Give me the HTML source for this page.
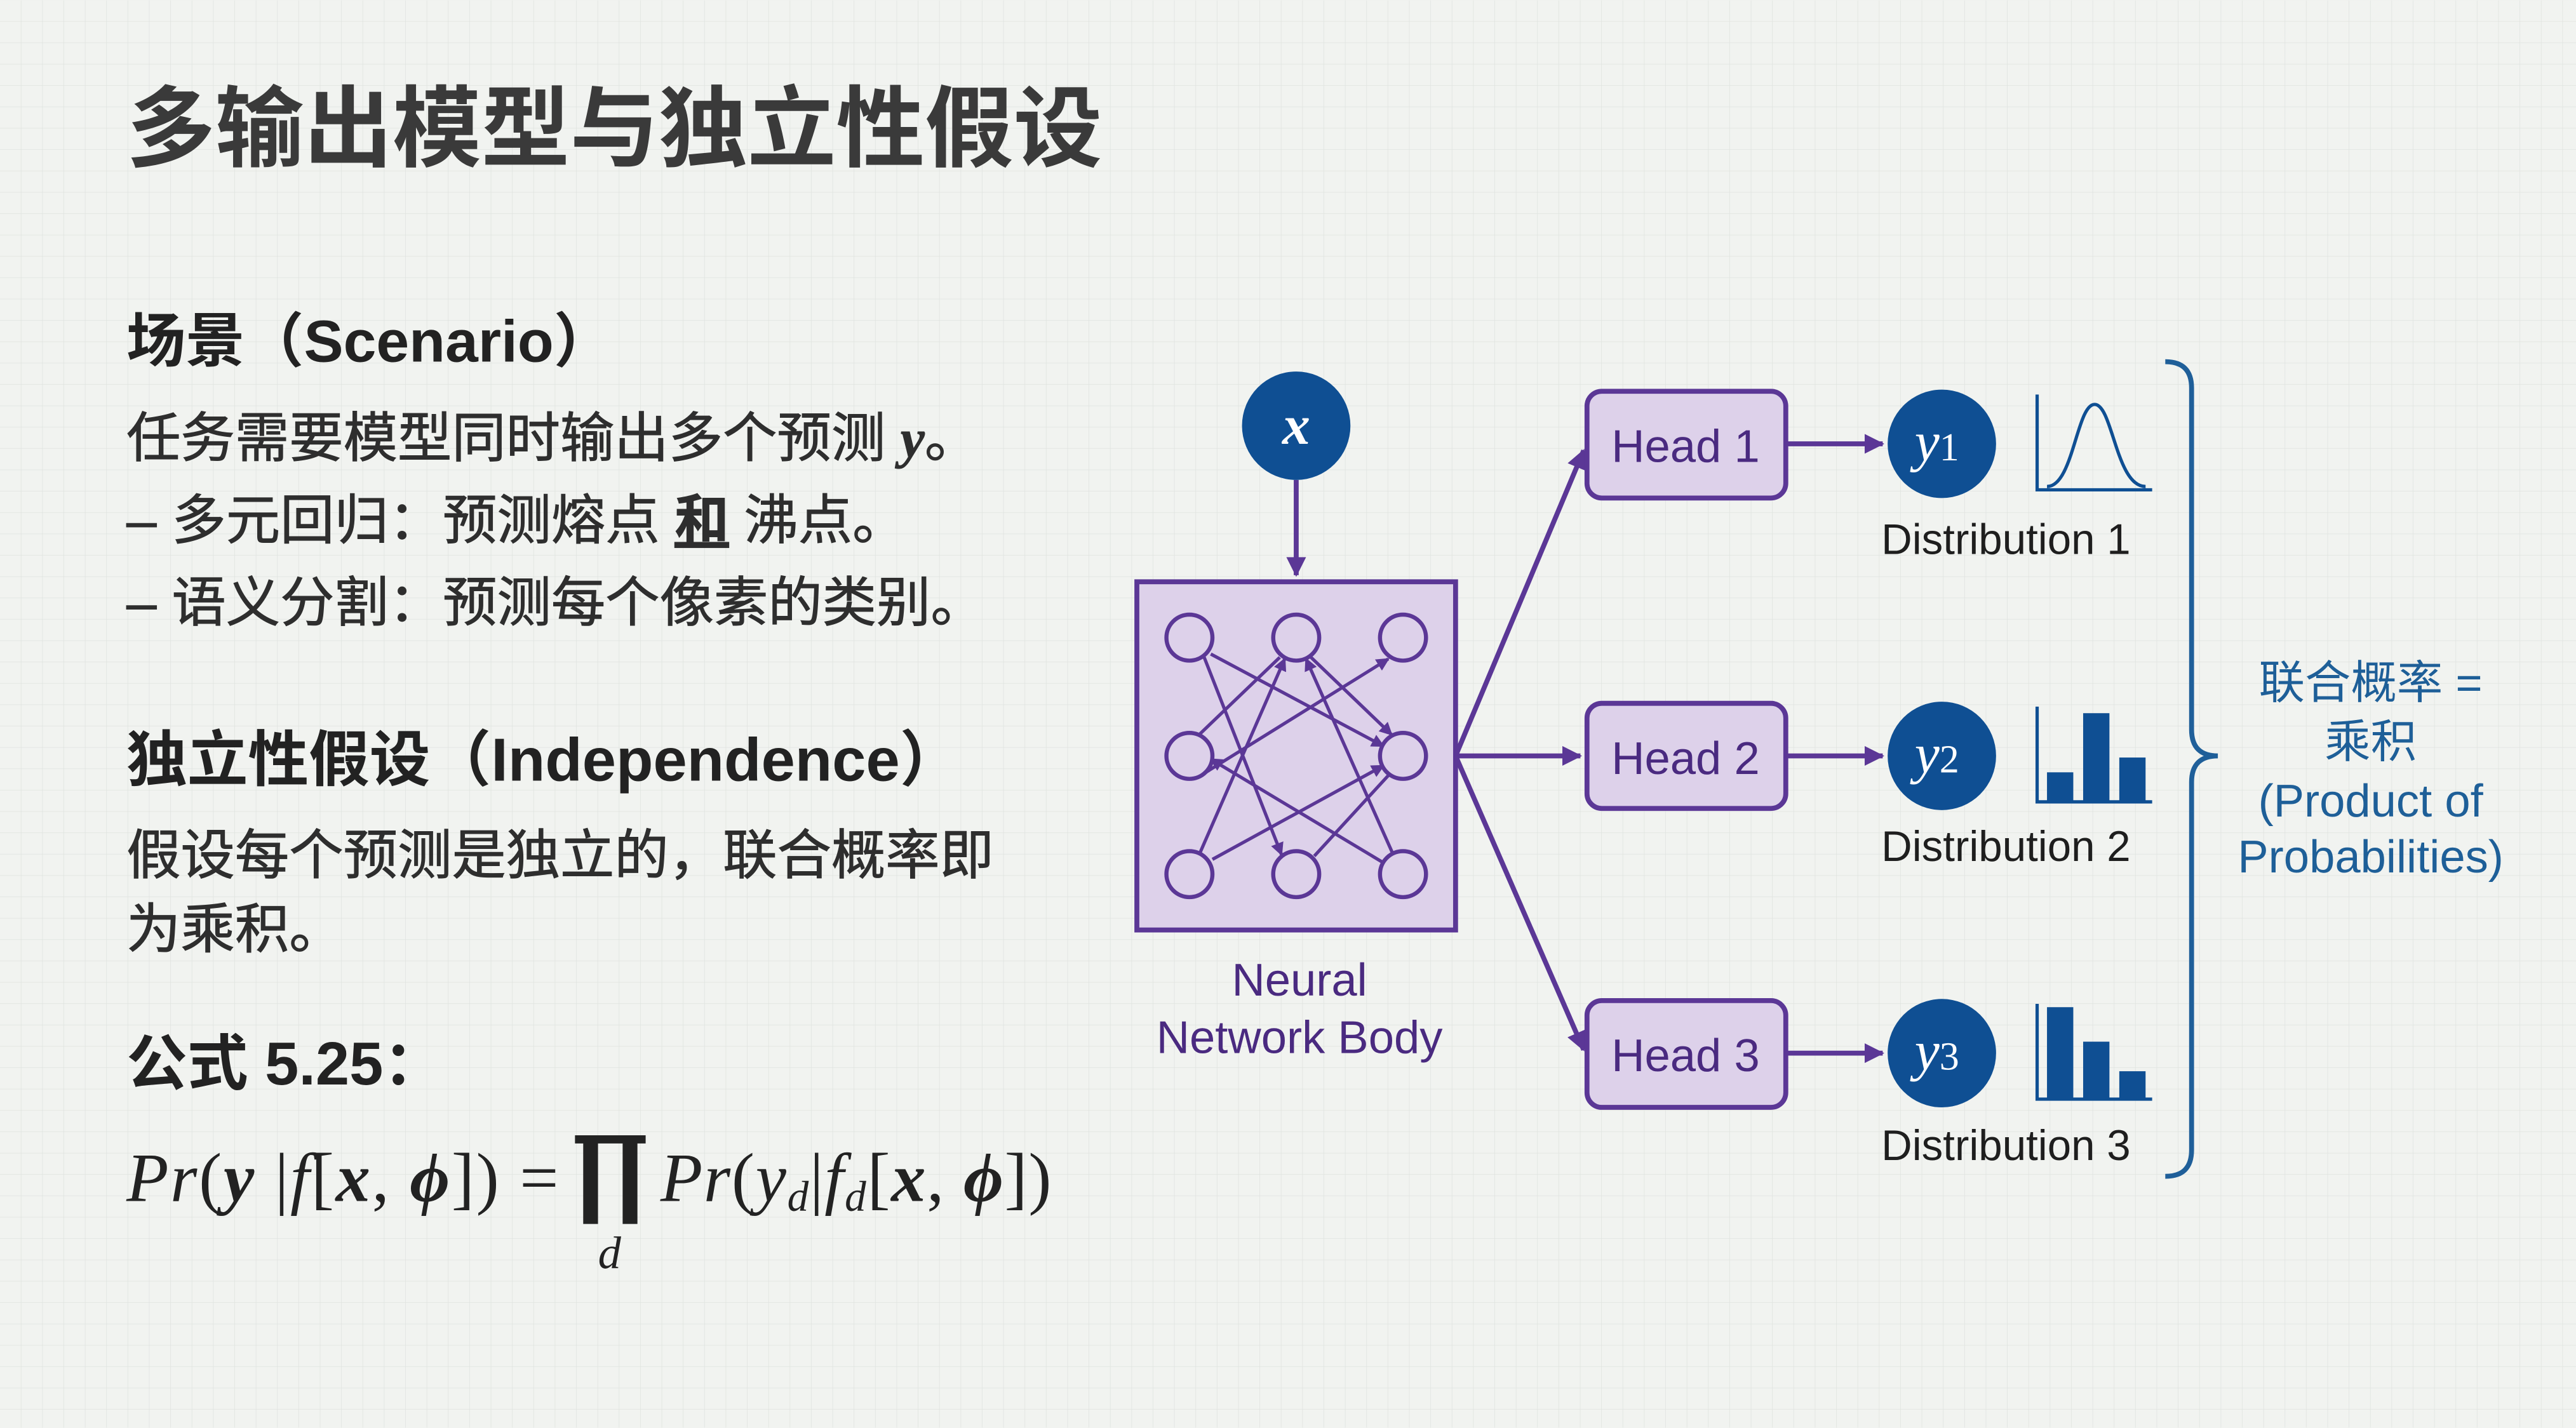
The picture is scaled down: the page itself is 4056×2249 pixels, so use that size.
<!DOCTYPE html>
<html><head><meta charset="utf-8"><style>
html,body{margin:0;padding:0;background:#f1f3f0;}
svg{display:block}
.cn{font-family:"Liberation Sans","Noto Sans CJK SC",sans-serif;}
</style></head><body>
<svg width="4056" height="2249" viewBox="0 0 1568 869" xmlns="http://www.w3.org/2000/svg">
<defs>
<pattern id="g" width="13" height="13" patternUnits="userSpaceOnUse">
<path d="M13 0V13M0 13H13" fill="none" stroke="#dfe3df" stroke-width="0.6"/>
</pattern>
<marker id="ap" markerWidth="8" markerHeight="8" refX="7" refY="4" orient="auto" markerUnits="userSpaceOnUse"><path d="M0,0L8,4L0,8z" fill="#5b3796"/></marker>
<marker id="as" markerWidth="12" markerHeight="12" refX="11" refY="6" orient="auto" markerUnits="userSpaceOnUse"><path d="M0,0L12,6L0,12z" fill="#5b3796"/></marker>
</defs>
<rect width="1568" height="869" fill="#f1f3f0"/>
<rect width="1568" height="869" fill="url(#g)"/>

<g class="cn" fill="#2e2e2e">
<text x="77" y="97" font-size="54" font-weight="bold" fill="#3a3a3a">多输出模型与独立性假设</text>
<text x="77" y="220" font-size="36" font-weight="bold" fill="#222">场景（Scenario）</text>
<text x="77" y="278" font-size="33" stroke="#2e2e2e" stroke-width="0.4">任务需要模型同时输出多个预测 <tspan font-family="Liberation Serif" font-weight="bold" font-style="italic">y</tspan>。</text>
<text x="77" y="328" font-size="33" stroke="#2e2e2e" stroke-width="0.4">– 多元回归：预测熔点 <tspan font-weight="bold" text-decoration="underline">和</tspan> 沸点。</text>
<text x="77" y="378" font-size="33" stroke="#2e2e2e" stroke-width="0.4">– 语义分割：预测每个像素的类别。</text>
<text x="77" y="475" font-size="37" font-weight="bold" fill="#222">独立性假设（Independence）</text>
<text x="77" y="532" font-size="33" stroke="#2e2e2e" stroke-width="0.4">假设每个预测是独立的，联合概率即</text>
<text x="77" y="577" font-size="33" stroke="#2e2e2e" stroke-width="0.4">为乘积。</text>
<text x="77" y="660" font-size="37" font-weight="bold" fill="#222">公式 5.25：</text>
</g>
<g font-family="Liberation Serif,serif" font-size="42" fill="#222">
<text x="77" y="731" textLength="263" lengthAdjust="spacing"><tspan font-style="italic">Pr</tspan>(<tspan font-style="italic" font-weight="bold">y</tspan> |<tspan font-style="italic">f</tspan>[<tspan font-style="italic" font-weight="bold">x</tspan>, <tspan font-style="italic" font-weight="bold">ϕ</tspan>]) =</text>
<path d="M350 691H393V696H388V745H379V696H364V745H355V696H350Z"/>
<text x="364" y="772" font-size="28" font-style="italic">d</text>
<text x="402" y="731" textLength="238" lengthAdjust="spacing"><tspan font-style="italic">Pr</tspan>(<tspan font-style="italic">y<tspan font-size="26" dy="6">d</tspan></tspan><tspan dy="-6">|</tspan><tspan font-style="italic">f<tspan font-size="26" dy="6">d</tspan></tspan><tspan dy="-6">[</tspan><tspan font-style="italic" font-weight="bold">x</tspan>, <tspan font-style="italic" font-weight="bold">ϕ</tspan>])</text>
</g>

<!-- diagram -->
<g stroke="#5b3796" stroke-width="3" fill="none">
<line x1="789" y1="292" x2="789" y2="350" marker-end="url(#as)"/>
<rect x="692" y="354" width="194" height="212" fill="#ddd1ea"/>
<line x1="886" y1="460" x2="964" y2="274" marker-end="url(#as)"/>
<line x1="886" y1="460" x2="962" y2="460" marker-end="url(#as)"/>
<line x1="886" y1="460" x2="964" y2="639" marker-end="url(#as)"/>
<rect x="966" y="238" width="121" height="65" rx="9" fill="#ddd1ea"/>
<rect x="966" y="428" width="121" height="64" rx="9" fill="#ddd1ea"/>
<rect x="966" y="609" width="121" height="65" rx="9" fill="#ddd1ea"/>
<line x1="1087" y1="270" x2="1146" y2="270" marker-end="url(#as)"/>
<line x1="1087" y1="460" x2="1146" y2="460" marker-end="url(#as)"/>
<line x1="1087" y1="641" x2="1146" y2="641" marker-end="url(#as)"/>
</g>
<g stroke="#5b3796" stroke-width="2">
<line x1="733" y1="400" x2="780" y2="520" marker-end="url(#ap)"/>
<line x1="737" y1="398" x2="842" y2="454" marker-end="url(#ap)"/>
<line x1="730" y1="520" x2="782" y2="401" marker-end="url(#ap)"/>
<line x1="738" y1="523" x2="842" y2="466" marker-end="url(#ap)"/>
<line x1="848" y1="520" x2="795" y2="401" marker-end="url(#ap)"/>
<line x1="842" y1="525" x2="737" y2="462" marker-end="url(#ap)"/>
<line x1="734" y1="470" x2="845" y2="401" marker-end="url(#ap)"/>
<line x1="798" y1="400" x2="847" y2="447" marker-end="url(#ap)"/>
<line x1="779" y1="400" x2="730" y2="447" />
<line x1="800" y1="521" x2="845" y2="472"/>
</g>
<g stroke="#5b3796" stroke-width="2.5" fill="#ddd1ea">
<circle cx="724" cy="388" r="14"/><circle cx="789" cy="388" r="14"/><circle cx="854" cy="388" r="14"/>
<circle cx="724" cy="460" r="14"/><circle cx="854" cy="460" r="14"/>
<circle cx="724" cy="532" r="14"/><circle cx="789" cy="532" r="14"/><circle cx="854" cy="532" r="14"/>
</g>
<g font-family="Liberation Sans,sans-serif" font-size="28" fill="#4a2a80" text-anchor="middle">
<text x="791" y="606">Neural</text>
<text x="791" y="641">Network Body</text>
<text x="1026" y="281">Head 1</text>
<text x="1026" y="471">Head 2</text>
<text x="1026" y="652">Head 3</text>
</g>
<g fill="#0f4f93">
<circle cx="789" cy="259" r="33"/>
<circle cx="1182" cy="270" r="33"/>
<circle cx="1182" cy="460" r="33"/>
<circle cx="1182" cy="641" r="33"/>
</g>
<g font-family="Liberation Serif,serif" font-style="italic" fill="#fff" font-size="34" text-anchor="middle">
<text x="789" y="270" font-weight="bold">x</text>
<text x="1179" y="280">y<tspan font-size="24" font-style="normal">1</tspan></text>
<text x="1179" y="470">y<tspan font-size="24" font-style="normal">2</tspan></text>
<text x="1179" y="651">y<tspan font-size="24" font-style="normal">3</tspan></text>
</g>
<g stroke="#0f4f93" stroke-width="2" fill="none">
<path d="M1240 240V298H1310"/>
<path d="M1246 296C1262 296 1264 246 1275 246C1286 246 1288 296 1306 296"/>
<path d="M1240 430V488H1310"/>
<path d="M1240 611V669H1310"/>
</g>
<g fill="#0f4f93">
<rect x="1246" y="470" width="16" height="18"/>
<rect x="1268" y="434" width="16" height="54"/>
<rect x="1290" y="461" width="16" height="27"/>
<rect x="1246" y="613" width="16" height="56"/>
<rect x="1268" y="634" width="16" height="35"/>
<rect x="1290" y="652" width="16" height="17"/>
</g>
<g font-family="Liberation Sans,sans-serif" font-size="26" fill="#1e1e1e" text-anchor="middle">
<text x="1221" y="337">Distribution 1</text>
<text x="1221" y="524">Distribution 2</text>
<text x="1221" y="706">Distribution 3</text>
</g>
<path d="M1318 220Q1334 220 1334 236V444Q1334 460 1350 460Q1334 460 1334 476V700Q1334 716 1318 716" stroke="#1f5f99" stroke-width="3" fill="none"/>
<g class="cn" font-size="28" fill="#1e5f98" text-anchor="middle">
<text x="1443" y="425">联合概率 =</text>
<text x="1443" y="461">乘积</text>
<text x="1443" y="497">(Product of</text>
<text x="1443" y="531">Probabilities)</text>
</g>
</svg>
</body></html>
